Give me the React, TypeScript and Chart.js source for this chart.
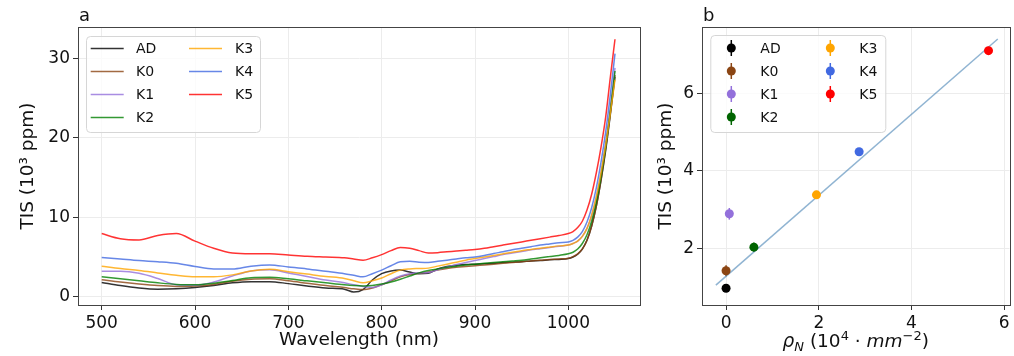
import React, { useEffect, useRef } from "react";
import { Chart, registerables } from "chart.js";

Chart.register(...registerables);

const FONT = '"DejaVu Sans", sans-serif';

// ---------- Panel a: spectra ----------
const wavelengthNm = [
  500, 520, 540, 560, 580, 600, 620, 640, 660, 680, 700, 720, 740, 760,
  770, 780, 790, 800, 810, 820, 830, 840, 850, 860, 870, 880, 890, 900, 910, 920,
  930, 940, 950, 960, 970, 980, 990, 1000,
  1005, 1010, 1015, 1020, 1025, 1030, 1035, 1040, 1045, 1050,
];

const tisAD = [1.8, 1.4, 1.1, 0.95, 1.0, 1.15, 1.4, 1.75, 1.9, 1.9, 1.65, 1.35, 1.1, 0.95,
  0.6, 0.9, 2.1, 2.9, 3.25, 3.35, 3.1, 2.9, 2.95, 3.5, 3.8, 3.95, 4.05, 4.1, 4.15, 4.2,
  4.3, 4.35, 4.4, 4.5, 4.55, 4.65, 4.7, 4.8,
  5.0, 5.35, 6.0, 7.1, 8.9, 11.4, 14.6, 18.4, 22.9, 27.7];
const tisK0 = [2.15, 1.85, 1.6, 1.4, 1.3, 1.35, 1.55, 1.95, 2.2, 2.25, 2.0, 1.7, 1.4, 1.15,
  1.0, 0.9, 1.1, 1.5, 2.0, 2.5, 2.8, 2.95, 3.1, 3.35, 3.55, 3.7, 3.8, 3.9, 4.0, 4.1,
  4.2, 4.3, 4.4, 4.5, 4.6, 4.7, 4.75, 4.85,
  5.05, 5.4, 6.0, 7.1, 8.9, 11.4, 14.7, 18.6, 23.1, 27.9];
const tisK1 = [3.2, 3.2, 2.95, 2.3, 1.5, 1.45, 1.85, 2.6, 3.25, 3.4, 3.0, 2.55, 2.1, 1.75,
  1.5, 1.3, 1.15, 1.5, 2.1, 2.6, 2.9, 3.0, 3.05, 3.4, 3.75, 4.05, 4.3, 4.55, 4.8, 5.05,
  5.3, 5.5, 5.7, 5.9, 6.05, 6.2, 6.35, 6.5,
  6.7, 7.0, 7.6, 8.6, 10.2, 12.5, 15.5, 19.2, 23.7, 28.8];
const tisK2 = [2.5, 2.25, 2.0, 1.75, 1.55, 1.5, 1.7, 2.05, 2.4, 2.45, 2.25, 2.0, 1.75, 1.5,
  1.4, 1.35, 1.4, 1.6, 1.85, 2.2, 2.6, 3.0, 3.3, 3.5, 3.7, 3.85, 4.0, 4.1, 4.2, 4.3,
  4.4, 4.5, 4.6, 4.75, 4.9, 5.05, 5.2, 5.4,
  5.6, 6.0, 6.7, 7.8, 9.5, 11.9, 15.1, 18.9, 23.4, 28.4];
const tisK3 = [3.85, 3.55, 3.3, 3.0, 2.7, 2.5, 2.5, 2.75, 3.25, 3.45, 3.15, 2.85, 2.55, 2.3,
  2.0, 1.75, 2.0, 2.35, 2.9, 3.35, 3.5, 3.55, 3.6, 3.85, 4.1, 4.35, 4.6, 4.8, 5.0, 5.2,
  5.4, 5.6, 5.8, 5.95, 6.1, 6.25, 6.4, 6.5,
  6.7, 7.0, 7.6, 8.6, 10.3, 12.6, 15.6, 19.1, 23.1, 27.3];
const tisK4 = [4.95, 4.75, 4.55, 4.4, 4.2, 3.8, 3.5, 3.5, 3.85, 4.0, 3.75, 3.5, 3.2, 2.9,
  2.7, 2.5, 2.9, 3.35, 3.9, 4.4, 4.45, 4.35, 4.3, 4.45, 4.6, 4.75, 4.9, 5.0, 5.2, 5.45,
  5.65, 5.9, 6.1, 6.3, 6.5, 6.65, 6.8, 6.9,
  7.1, 7.5, 8.2, 9.4, 11.2, 13.7, 16.9, 20.7, 25.4, 30.6];
const tisK5 = [7.95, 7.3, 7.15, 7.7, 7.95, 7.0, 6.1, 5.5, 5.4, 5.4, 5.25, 5.1, 5.0, 4.9,
  4.75, 4.6, 4.9, 5.3, 5.8, 6.2, 6.1, 5.8, 5.5, 5.55, 5.65, 5.75, 5.85, 5.95, 6.1, 6.3,
  6.5, 6.7, 6.9, 7.1, 7.3, 7.5, 7.7, 7.95,
  8.2, 8.7, 9.5, 10.9, 12.9, 15.6, 18.8, 22.6, 27.6, 32.4];

const spectraSeries = [tisAD, tisK0, tisK1, tisK2, tisK3, tisK4, tisK5];
const sampleNames = ["AD", "K0", "K1", "K2", "K3", "K4", "K5"];
const sampleColors = ["#000000", "#8B4513", "#9370DB", "#006400", "#FFA500", "#4169E1", "#FF0000"];
const lineColors = ["#000000", "#8B4513", "#9370DB", "#008000", "#FFA500", "#4169E1", "#FF0000"];

const wavelengthTicks = [500, 600, 700, 800, 900, 1000];
const wavelengthTickLabels = ["500", "600", "700", "800", "900", "1000"];
const spectraYTicks = [0, 10, 20, 30];
const spectraYTickLabels = ["0", "10", "20", "30"];

// ---------- Panel b: TIS vs density ----------
const nitrogenDensity = [0, 0, 0.07, 0.6, 1.95, 2.87, 5.66];
const tisMean = [0.97, 1.42, 2.89, 2.03, 3.38, 4.49, 7.1];
const tisError = [0.06, 0.14, 0.15, 0.12, 0.1, 0.08, 0.1];
const fitDensity = [-0.22, 5.86];
const fitTis = [1.05, 7.4];

const densityTicks = [0, 2, 4, 6];
const densityTickLabels = ["0", "2", "4", "6"];
const meanYTicks = [2, 4, 6];
const meanYTickLabels = ["2", "4", "6"];

const TICK_SIZE = 17;
const LABEL_SIZE = 18.5;

function rgba(hex: string, a: number) {
  const n = parseInt(hex.slice(1), 16);
  return `rgba(${(n >> 16) & 255},${(n >> 8) & 255},${n & 255},${a})`;
}

function legendBox(ctx: CanvasRenderingContext2D, x: number, y: number, w: number, h: number) {
  ctx.beginPath();
  (ctx as any).roundRect(x + 0.5, y + 0.5, w, h, 4);
  ctx.fillStyle = "rgba(255,255,255,0.8)";
  ctx.fill();
  ctx.strokeStyle = "#d6d6d6";
  ctx.lineWidth = 1;
  ctx.stroke();
}

function drawFrame(ctx: CanvasRenderingContext2D, ca: any) {
  ctx.strokeStyle = "#444";
  ctx.lineWidth = 1;
  ctx.strokeRect(Math.round(ca.left) + 0.5, Math.round(ca.top) + 0.5,
    Math.round(ca.right - ca.left), Math.round(ca.bottom - ca.top));
}

const axisCommon = () => ({
  grid: { color: "#ececec", tickColor: "#333", tickLength: 5, lineWidth: 1 },
  border: { color: "#444" },
});
const tickCommon = (labels: string[]) => ({
  font: { size: TICK_SIZE, family: FONT }, color: "#111", padding: 3, maxRotation: 0, autoSkip: false,
  callback: (_v: any, i: number) => labels[i],
});

export default function App() {
  const refA = useRef<HTMLCanvasElement>(null);
  const refB = useRef<HTMLCanvasElement>(null);

  useEffect(() => {
    Chart.defaults.font.family = FONT;

    const panelAPlugin = {
      id: "panelA",
      afterDraw(chart: any) {
        const { ctx, chartArea: ca } = chart;
        ctx.save();
        drawFrame(ctx, ca);
        ctx.fillStyle = "#111";
        ctx.font = `18px ${FONT}`;
        ctx.textAlign = "left";
        ctx.textBaseline = "alphabetic";
        ctx.fillText("a", ca.left + 1, 21);
        const bx = ca.left + 8, by = ca.top + 9;
        legendBox(ctx, bx, by, 174, 96);
        ctx.font = `14px ${FONT}`;
        ctx.textBaseline = "middle";
        sampleNames.forEach((name, i) => {
          const col = i < 4 ? 0 : 1;
          const row = i < 4 ? i : i - 4;
          const yy = by + 12.5 + row * 23;
          const hx = bx + 4.7 + col * 98.3;
          ctx.strokeStyle = rgba(lineColors[i], 0.8);
          ctx.lineWidth = 1.5;
          ctx.beginPath();
          ctx.moveTo(hx, yy);
          ctx.lineTo(hx + 33, yy);
          ctx.stroke();
          ctx.fillStyle = "#111";
          ctx.fillText(name, bx + 50 + col * 99, yy + 1);
        });
        ctx.restore();
      },
    };

    const chartA = new Chart(refA.current!, {
      type: "line",
      data: {
        datasets: spectraSeries.map((vals, i) => ({
          label: sampleNames[i],
          data: wavelengthNm.map((w, j) => ({ x: w, y: vals[j] })),
          borderColor: rgba(lineColors[i], 0.8),
          borderWidth: 1.5,
          pointRadius: 0,
          cubicInterpolationMode: "monotone" as const,
          fill: false,
          order: 6 - i,
        })),
      },
      options: {
        animation: false,
        responsive: false,
        layout: { padding: { top: 27, right: 15, left: 0, bottom: 0 } },
        plugins: { legend: { display: false }, tooltip: { enabled: false } },
        scales: {
          x: {
            type: "linear",
            min: 474.6,
            max: 1076.8,
            ...axisCommon(),
            ticks: tickCommon(wavelengthTickLabels),
            afterBuildTicks: (s: any) => { s.ticks = wavelengthTicks.map((v) => ({ value: v })); },
            afterFit: (s: any) => { s.height = 51; },
            title: { display: true, text: "Wavelength (nm)", font: { size: LABEL_SIZE, family: FONT }, color: "#111", padding: { top: 0, bottom: 4.4 } },
          },
          y: {
            type: "linear",
            min: -1.04,
            max: 33.94,
            ...axisCommon(),
            ticks: tickCommon(spectraYTickLabels),
            afterBuildTicks: (s: any) => { s.ticks = spectraYTicks.map((v) => ({ value: v })); },
            afterFit: (s: any) => { s.width = 78; },
            title: { display: true, text: "TIS (10³ ppm)", font: { size: LABEL_SIZE, family: FONT }, color: "#111", padding: { top: 17.4, bottom: 0 } },
          },
        },
      } as any,
      plugins: [panelAPlugin],
    });

    const panelBPlugin = {
      id: "panelB",
      beforeDatasetsDraw(chart: any) {
        const { ctx, scales } = chart;
        ctx.save();
        sampleNames.forEach((_n, i) => {
          const x = scales.x.getPixelForValue(nitrogenDensity[i]);
          const y1 = scales.y.getPixelForValue(tisMean[i] - tisError[i]);
          const y2 = scales.y.getPixelForValue(tisMean[i] + tisError[i]);
          ctx.strokeStyle = sampleColors[i];
          ctx.lineWidth = 1.5;
          ctx.beginPath();
          ctx.moveTo(x, y1);
          ctx.lineTo(x, y2);
          ctx.stroke();
        });
        ctx.restore();
      },
      afterDraw(chart: any) {
        const { ctx, chartArea: ca } = chart;
        ctx.save();
        drawFrame(ctx, ca);
        ctx.fillStyle = "#111";
        ctx.font = `18px ${FONT}`;
        ctx.textAlign = "left";
        ctx.textBaseline = "alphabetic";
        ctx.fillText("b", ca.left + 1, 21);
        const bx = ca.left + 8.3, by = ca.top + 8;
        legendBox(ctx, bx, by, 175, 97);
        ctx.font = `14px ${FONT}`;
        ctx.textBaseline = "middle";
        sampleNames.forEach((name, i) => {
          const col = i < 4 ? 0 : 1;
          const row = i < 4 ? i : i - 4;
          const yy = by + 13 + row * 23;
          const mx = bx + 21 + col * 99;
          ctx.strokeStyle = sampleColors[i];
          ctx.lineWidth = 1.5;
          ctx.beginPath();
          ctx.moveTo(mx, yy - 8);
          ctx.lineTo(mx, yy + 8);
          ctx.stroke();
          ctx.fillStyle = sampleColors[i];
          ctx.beginPath();
          ctx.arc(mx, yy, 4.5, 0, Math.PI * 2);
          ctx.fill();
          ctx.fillStyle = "#111";
          ctx.fillText(name, bx + 50 + col * 99, yy + 1);
        });
        const big = LABEL_SIZE, small = 13;
        const segs = [
          { t: "ρ", f: `italic ${big}px ${FONT}`, dy: 0 },
          { t: "N", f: `italic ${small}px ${FONT}`, dy: 3.5 },
          { t: " (10", f: `${big}px ${FONT}`, dy: 0 },
          { t: "4", f: `${small}px ${FONT}`, dy: -7.5 },
          { t: " · ", f: `${big}px ${FONT}`, dy: 0 },
          { t: "mm", f: `italic ${big}px ${FONT}`, dy: 0 },
          { t: "−2", f: `${small}px ${FONT}`, dy: -7.5 },
          { t: ")", f: `${big}px ${FONT}`, dy: 0 },
        ];
        ctx.textBaseline = "alphabetic";
        let total = 0;
        const widths = segs.map((s) => { ctx.font = s.f; const w = ctx.measureText(s.t).width; total += w; return w; });
        let x = (ca.left + ca.right) / 2 - total / 2;
        const base = 347;
        segs.forEach((s, i) => {
          ctx.font = s.f;
          ctx.fillText(s.t, x, base + s.dy);
          x += widths[i];
        });
        ctx.restore();
      },
    };

    const chartB = new Chart(refB.current!, {
      type: "scatter",
      data: {
        datasets: [
          ...sampleNames.map((name, i) => ({
            label: name,
            data: [{ x: nitrogenDensity[i], y: tisMean[i] }],
            backgroundColor: sampleColors[i],
            borderWidth: 0,
            pointRadius: 4.5,
            order: 0,
          })),
          {
            label: "fit",
            type: "line" as const,
            data: fitDensity.map((x, j) => ({ x, y: fitTis[j] })),
            borderColor: "rgba(70,130,180,0.6)",
            borderWidth: 1.5,
            pointRadius: 0,
            showLine: true,
            fill: false,
            order: 1,
          },
        ],
      },
      options: {
        animation: false,
        responsive: false,
        layout: { padding: { top: 27, right: 2, left: 0, bottom: 0 } },
        plugins: { legend: { display: false }, tooltip: { enabled: false } },
        scales: {
          x: {
            type: "linear",
            min: -0.519,
            max: 6.113,
            ...axisCommon(),
            ticks: tickCommon(densityTickLabels),
            afterBuildTicks: (s: any) => { s.ticks = densityTicks.map((v) => ({ value: v })); },
            afterFit: (s: any) => { s.height = 51; },
            title: { display: false },
          },
          y: {
            type: "linear",
            min: 0.537,
            max: 7.71,
            ...axisCommon(),
            ticks: tickCommon(meanYTickLabels),
            afterBuildTicks: (s: any) => { s.ticks = meanYTicks.map((v) => ({ value: v })); },
            afterFit: (s: any) => { s.width = 47; },
            title: { display: true, text: "TIS (10³ ppm)", font: { size: LABEL_SIZE, family: FONT }, color: "#111", padding: { top: 0, bottom: 0 } },
          },
        },
      } as any,
      plugins: [panelBPlugin],
    });

    return () => {
      chartA.destroy();
      chartB.destroy();
    };
  }, []);

  return (
    <div style={{ position: "absolute", left: 0, top: 0, width: 1014, height: 356, background: "#fff", overflow: "hidden" }}>
      <canvas ref={refA} width={655} height={356} style={{ position: "absolute", left: 0, top: 0, width: 655, height: 356 }} />
      <canvas ref={refB} width={359} height={356} style={{ position: "absolute", left: 655, top: 0, width: 359, height: 356 }} />
    </div>
  );
}
